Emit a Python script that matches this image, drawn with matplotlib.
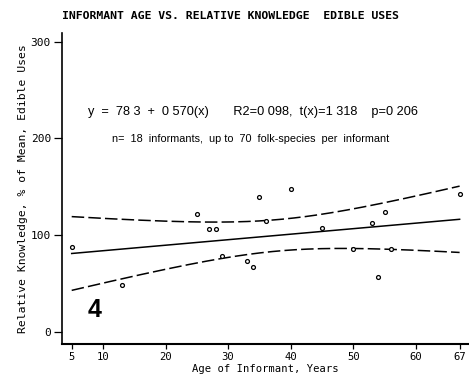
import numpy as np
import matplotlib.pyplot as plt

plt.rcParams['lines.scale_dashes'] = False

# informant ages and relative knowledge (% of mean)
age = [5, 13, 25, 27, 28, 29, 33, 34, 35, 36, 40, 45, 50, 53, 54, 55, 56, 67]
knowledge = [88, 49, 122, 106, 106, 79, 73, 67, 140, 115, 148, 107, 86, 113, 57, 124, 86, 143]

# regression reported on the chart
b0, b1 = 78.3, 0.570
x_ticks = [5, 10, 20, 30, 40, 50, 60, 67]
y_ticks = [0, 100, 200, 300]

x = np.array(age, dtype=float)
y = np.array(knowledge, dtype=float)
n = len(x)

# confidence band for the mean response
xs = np.linspace(5, 67, 200)
fit = b0 + b1 * xs
resid = y - (b0 + b1 * x)
s = np.sqrt(np.sum(resid ** 2) / (n - 2))
sxx = np.sum((x - x.mean()) ** 2)
t_crit = 2.4
half = t_crit * s * np.sqrt(1.0 / n + (xs - x.mean()) ** 2 / sxx)

fig = plt.figure(figsize=(4.69, 3.78), dpi=100)
ax = fig.add_axes([0.1322, 0.0899, 0.8678, 0.8228])

ax.plot(xs, fit, color='black', lw=1.1)
ax.plot(xs, fit + half, color='black', lw=1.1, dashes=(9, 3))
ax.plot(xs, fit - half, color='black', lw=1.1, dashes=(9, 3))
ax.plot(x, y, 'o', ms=2.8, mfc='white', mec='black', mew=0.9)

ax.set_xlim(3.45, 68.5)
ax.set_ylim(-12.4, 309)
ax.set_xticks(x_ticks)
ax.set_yticks(y_ticks)

mono = 'DejaVu Sans Mono'
ax.set_xticklabels([str(v) for v in x_ticks], family=mono, fontsize=7.6)
ax.set_yticklabels([str(v) for v in y_ticks], family=mono, fontsize=8)
ax.tick_params(axis='y', length=6, width=0.9, pad=2)
ax.tick_params(axis='x', length=3.5, width=0.9, pad=2.5)

for side in ['top', 'right']:
    ax.spines[side].set_visible(False)
ax.spines['left'].set_linewidth(1.2)
ax.spines['bottom'].set_linewidth(1.5)

ax.set_xlabel('Age of Informant, Years', family=mono, fontsize=7.6, labelpad=1.5)
ax.set_ylabel('Relative Knowledge, % of Mean, Edible Uses', family=mono,
              fontsize=8.2, labelpad=2)

fig.text(0.132, 0.958, 'INFORMANT AGE VS. RELATIVE KNOWLEDGE  EDIBLE USES',
         family=mono, fontweight='bold', fontsize=8.25, va='center', ha='left')

ax.text(7.6, 227.5, 'y  =  78 3  +  0 570(x)       R2=0 098,  t(x)=1 318    p=0 206',
        family='Liberation Sans', fontsize=9.2, va='center', ha='left')
ax.text(11.4, 199, 'n=  18  informants,  up to  70  folk-species  per  informant',
        family='Liberation Sans', fontsize=7.8, va='center', ha='left')
ax.text(8.6, 23, '4', family='Liberation Sans', fontweight='bold', fontsize=18,
        va='center', ha='center')

fig.savefig('out.png', dpi=100)
